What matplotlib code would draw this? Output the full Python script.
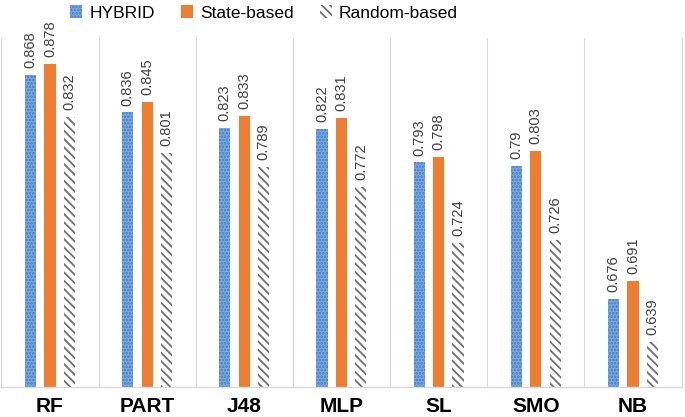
import numpy as np
import matplotlib
matplotlib.use("Agg")
import matplotlib.pyplot as plt

plt.rcParams['font.family'] = ['Liberation Sans', 'DejaVu Sans']
plt.rcParams['hatch.linewidth'] = 1.3

categories = ['RF', 'PART', 'J48', 'MLP', 'SL', 'SMO', 'NB']
series = ['HYBRID', 'State-based', 'Random-based']
hybrid = [0.868, 0.836, 0.823, 0.822, 0.793, 0.79, 0.676]
state_based = [0.878, 0.845, 0.833, 0.831, 0.798, 0.803, 0.691]
random_based = [0.832, 0.801, 0.789, 0.772, 0.724, 0.726, 0.639]
label_text = [
    ['0.868', '0.836', '0.823', '0.822', '0.793', '0.79', '0.676'],
    ['0.878', '0.845', '0.833', '0.831', '0.798', '0.803', '0.691'],
    ['0.832', '0.801', '0.789', '0.772', '0.724', '0.726', '0.639'],
]

fig = plt.figure(figsize=(6.85, 4.17), dpi=100)
ax = fig.add_axes([0.002, 1 - 387 / 417, 0.993, (387 - 38) / 417])

x = np.arange(len(categories))
w = 0.115
offsets = [-0.2, 0.0, 0.2]
styles = [
    dict(color='#7FAADF', edgecolor='#3F7CC8', hatch='.....', linewidth=0),
    dict(color='#ED7D31', edgecolor='#ED7D31', linewidth=0),
    dict(color='white', edgecolor='#707070', hatch='\\\\\\\\', linewidth=0),
]
values = [hybrid, state_based, random_based]

for i, vals in enumerate(values):
    ax.bar(x + offsets[i], np.array(vals) - 0.6, w, bottom=0.6,
           label=series[i], **styles[i])
    for j, v in enumerate(vals):
        ax.annotate(label_text[i][j], (x[j] + offsets[i], v), xytext=(0, 5),
                    textcoords='offset points', rotation=90, ha='center',
                    va='bottom', fontsize=10.5, color='#404040')

ax.set_ylim(0.6, 0.9)
ax.set_xlim(-0.5, len(categories) - 0.5)
for b in np.arange(0.5, len(categories) - 0.5, 1):
    ax.axvline(b, color='#D9D9D9', linewidth=0.8, zorder=0)

for s in ['left', 'right']:
    ax.spines[s].set_color('#D9D9D9')
    ax.spines[s].set_linewidth(0.8)
ax.spines['top'].set_visible(False)
ax.spines['bottom'].set_color('#D9D9D9')
ax.spines['bottom'].set_linewidth(1.0)

ax.set_yticks([])
ax.set_xticks(x)
ax.set_xticklabels(categories, fontsize=15, fontweight='bold', color='black')
ax.tick_params(axis='x', length=0, pad=7)

ax.legend(loc='center', bbox_to_anchor=(264 / 685, 1 - 13 / 417),
          bbox_transform=fig.transFigure, ncol=3, frameon=False,
          fontsize=12.5, handlelength=0.7, handleheight=0.7,
          columnspacing=1.5, handletextpad=0.4)

fig.savefig('out.png', dpi=100)
